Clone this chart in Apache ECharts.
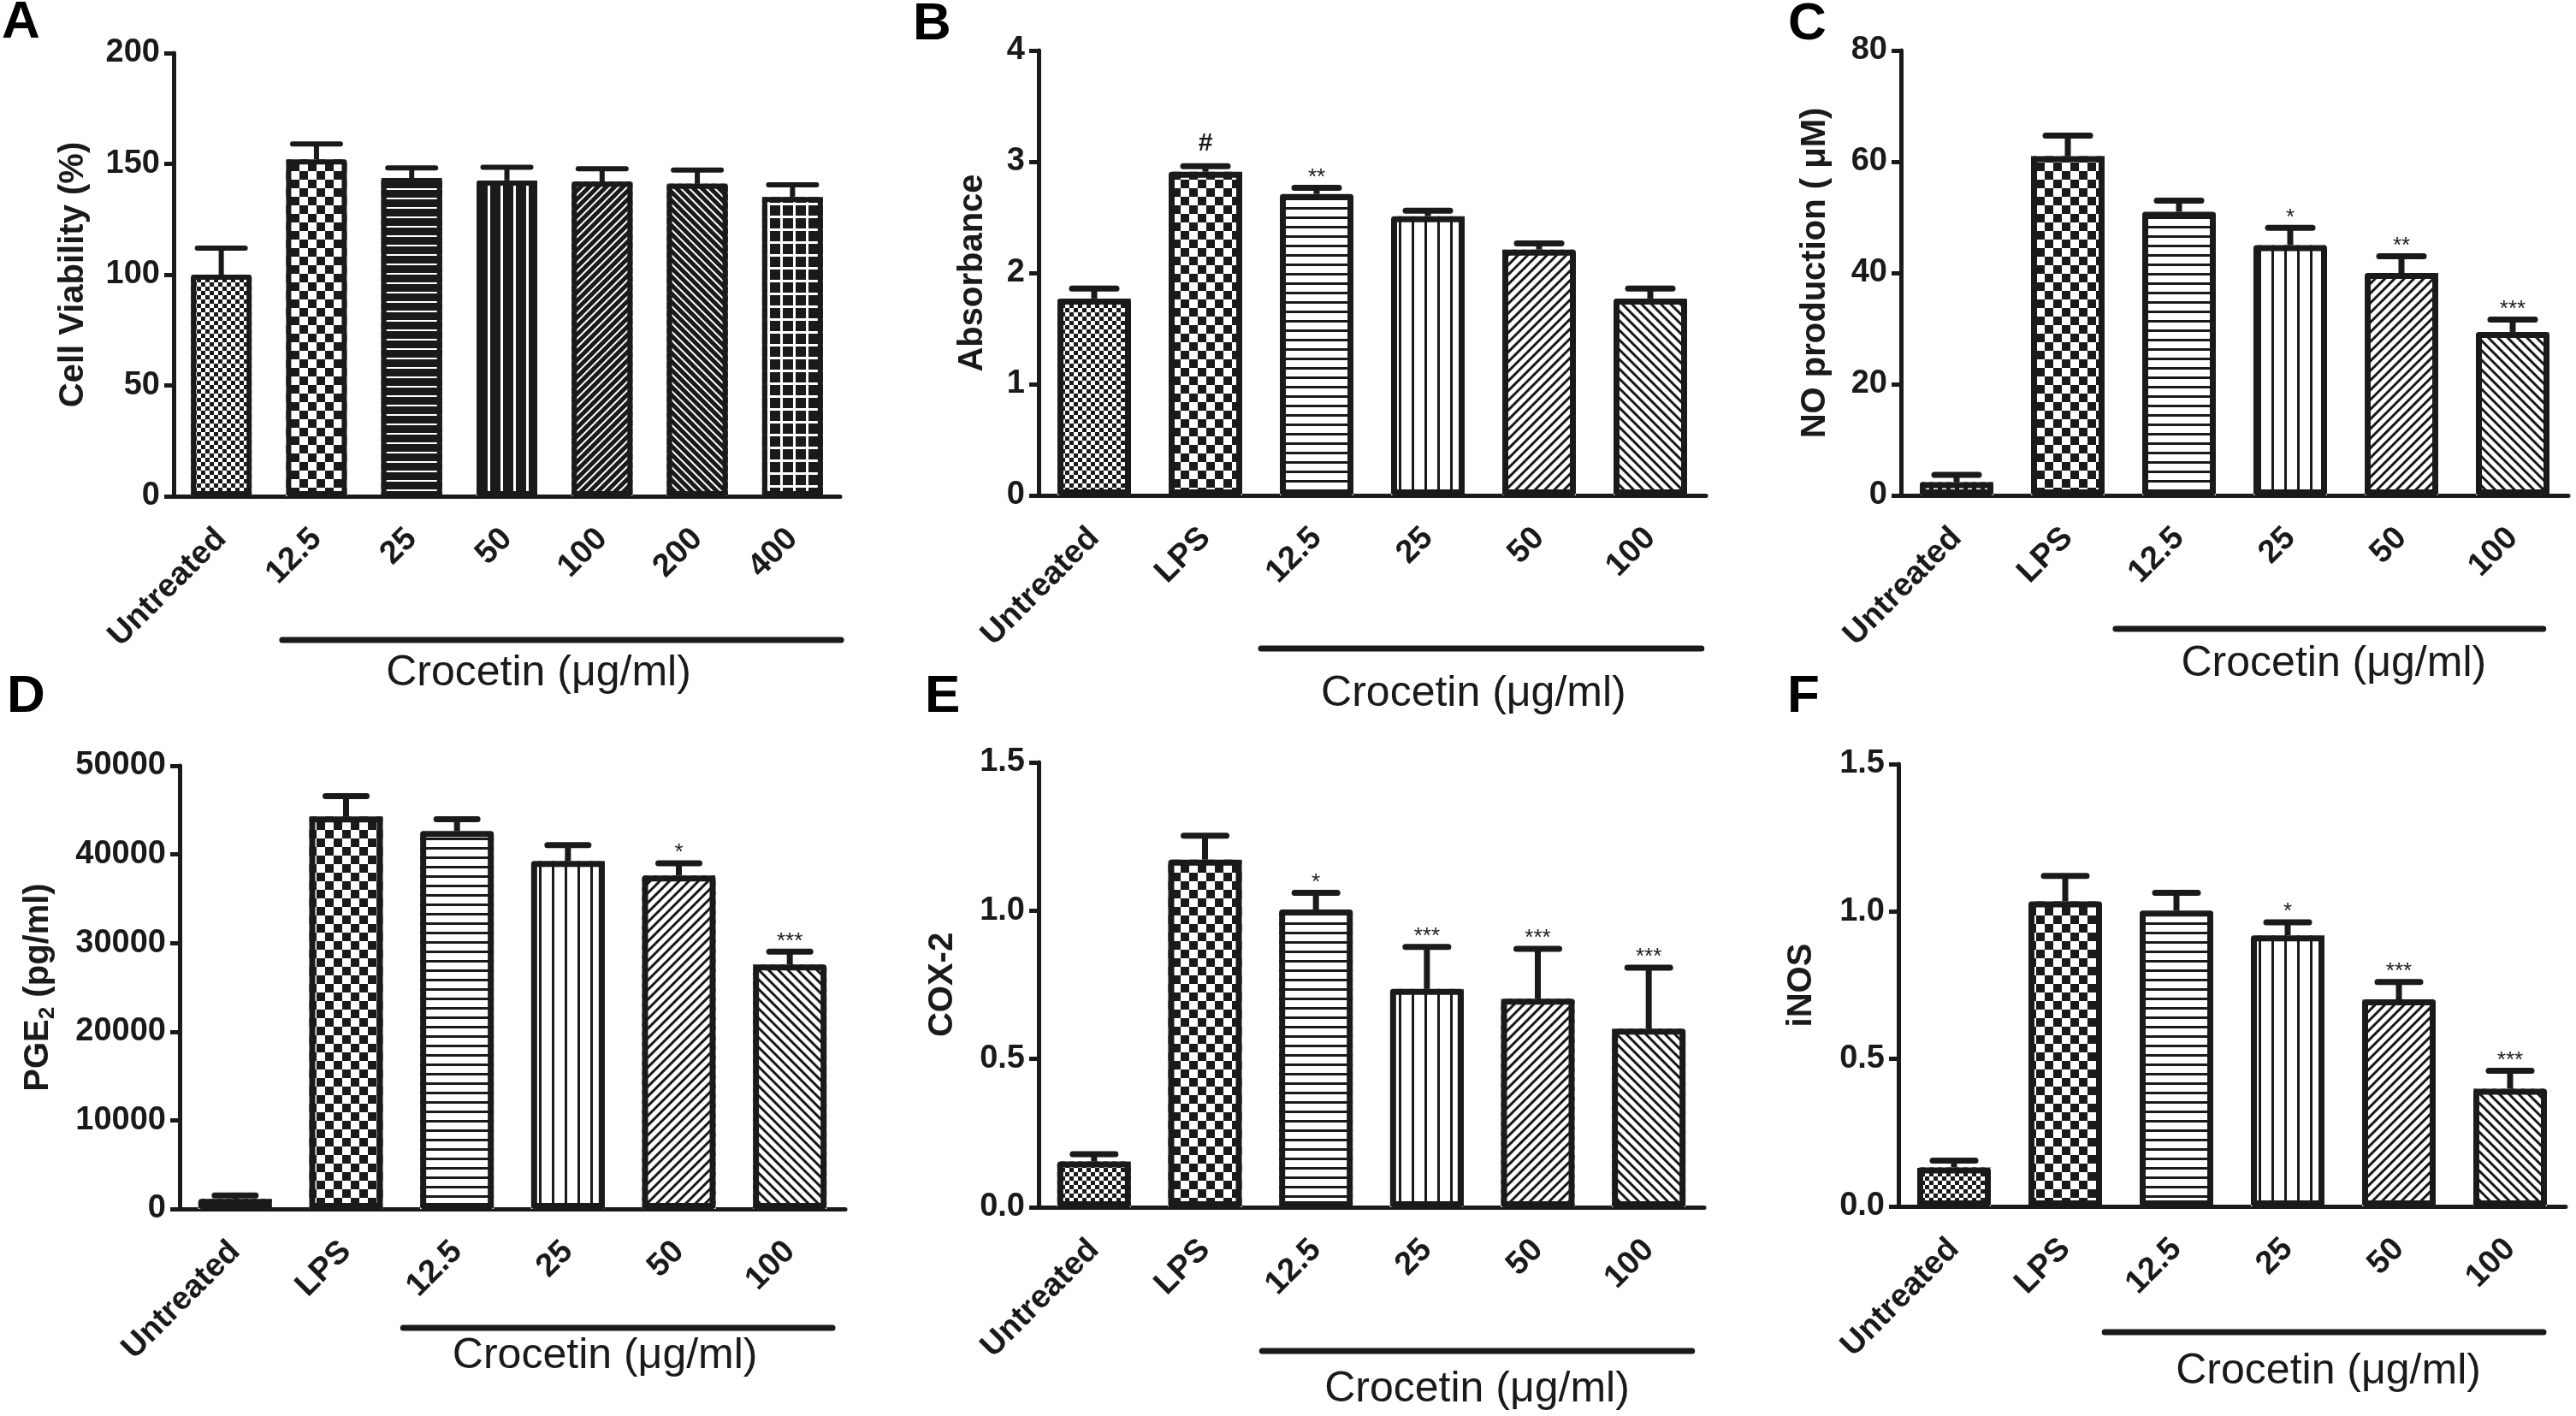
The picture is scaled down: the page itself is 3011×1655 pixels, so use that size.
<!DOCTYPE html>
<html>
<head>
<meta charset="utf-8">
<script src="https://cdn.jsdelivr.net/npm/echarts@6/dist/echarts.min.js"></script>
<style>
html, body { margin: 0; padding: 0; background: #fff; }
#main { width: 3011px; height: 1655px; }
</style>
</head>
<body>
<div id="main"></div>
<script>
var FONT = 'Liberation Sans, Arial, sans-serif';
var INK = '#1a1a1a';

// categories
var doseCategories = ['Untreated', '12.5', '25', '50', '100', '200', '400'];
var lpsCategories = ['Untreated', 'LPS', '12.5', '25', '50', '100'];

// A - cell viability (%)
var viabilityMean = [100, 152, 143.5, 142.5, 142, 141, 135];
var viabilityErr = [12, 7, 4.7, 6, 5.8, 6.2, 5.5];
var viabilitySig = ['', '', '', '', '', '', ''];

// B - absorbance
var absorbanceMean = [1.77, 2.91, 2.71, 2.51, 2.21, 1.77];
var absorbanceErr = [0.09, 0.05, 0.055, 0.05, 0.055, 0.09];
var absorbanceSig = ['', '#', '**', '', '', ''];

// C - NO production (uM)
var noMean = [2.4, 61, 51, 45, 40, 29.4];
var noErr = [1.3, 3.7, 2, 3.1, 3, 2.2];
var noSig = ['', '', '', '*', '**', '***'];

// D - PGE2 (pg/ml)
var pgeMean = [1130, 44270, 42630, 39250, 37610, 27580];
var pgeErr = [400, 2300, 1330, 1790, 1390, 1440];
var pgeSig = ['', '', '', '', '*', '***'];

// E - COX-2
var cox2Mean = [0.154, 1.172, 1.004, 0.736, 0.703, 0.602];
var cox2Err = [0.025, 0.081, 0.056, 0.142, 0.168, 0.206];
var cox2Sig = ['', '', '*', '***', '***', '***'];

// F - iNOS
var inosMean = [0.132, 1.034, 1.003, 0.919, 0.702, 0.399];
var inosErr = [0.023, 0.087, 0.06, 0.044, 0.059, 0.061];
var inosSig = ['', '', '', '*', '***', '***'];

// fill patterns (GraphPad style hatching)
function deco(bg, color, dx, dy, rot) {
	return { bg: bg, decal: { symbol: 'rect', symbolSize: 1, color: color, backgroundColor: bg,
		dashArrayX: dx, dashArrayY: dy, rotation: rot || 0 } };
}
var fineCheck = deco('#fff', INK, [[5, 5], [0, 5, 5, 0]], [5, 0]);
var coarseCheck = deco('#fff', INK, [[10, 10], [0, 10, 10, 0]], [10, 0]);
var hLines = deco('#fff', INK, [1, 0], [3, 8]);
var vLines = deco('#fff', INK, [3, 12], [1, 0]);
var diagUp = deco('#fff', INK, [3, 5], [1, 0], Math.PI / 4);
var diagDown = deco('#fff', INK, [3, 5], [1, 0], -Math.PI / 4);
var hLinesInv = deco(INK, '#fff', [1, 0], [2, 9]);
var vLinesInv = deco(INK, '#fff', [3, 12], [1, 0]);
var diagUpInv = deco(INK, '#fff', [2, 5], [1, 0], Math.PI / 4);
var diagDownInv = deco(INK, '#fff', [2, 5], [1, 0], -Math.PI / 4);
var gridInv = deco('#fff', INK, [12, 3], [12, 3]);

var patternsA = [fineCheck, coarseCheck, hLinesInv, vLinesInv, diagUpInv, diagDownInv, gridInv];
var patternsLps = [fineCheck, coarseCheck, hLines, vLines, diagUp, diagDown];

var panels = [
	{ letter: 'A', cats: doseCategories, mean: viabilityMean, err: viabilityErr, sig: viabilitySig,
	  yMax: 200, yStep: 50, digits: 0, yName: 'Cell Viability (%)', nameGap: 97,
	  left: 203, top: 62, width: 779, height: 518, barWidth: 71, border: 6, cap: 56,
	  patterns: patternsA, from: 1, pad: [0.72, 1.02], lineDy: 168, textDy: 39, textDx: -27, lx: 2, ly: 27 },
	{ letter: 'B', cats: lpsCategories, mean: absorbanceMean, err: absorbanceErr, sig: absorbanceSig,
	  yMax: 4, yStep: 1, digits: 0, yName: 'Absorbance', nameGap: 57,
	  left: 1214, top: 59, width: 780, height: 520, barWidth: 86, border: 7, cap: 52,
	  patterns: patternsLps, from: 2, pad: [1.0, 0.92], lineDy: 179, textDy: 53, textDx: -9, lx: 1067, ly: 29 },
	{ letter: 'C', cats: lpsCategories, mean: noMean, err: noErr, sig: noSig,
	  yMax: 80, yStep: 20, digits: 0, yName: 'NO production ( \u03bcM)', nameGap: 80,
	  left: 2222, top: 59, width: 780, height: 520, barWidth: 86, border: 7, cap: 52,
	  patterns: patternsLps, from: 2, pad: [1.14, 0.55], lineDy: 156, textDy: 41, textDx: 5, lx: 2090, ly: 29 },
	{ letter: 'D', cats: lpsCategories, mean: pgeMean, err: pgeErr, sig: pgeSig,
	  yMax: 50000, yStep: 10000, digits: 0, yName: '{b|PGE}{s|2}{b| (pg/ml)}', nameGap: 145,
	  left: 210, top: 895, width: 778, height: 518, barWidth: 86, border: 7, cap: 48,
	  patterns: patternsLps, from: 2, pad: [0.97, 0.77], lineDy: 139, textDy: 33, textDx: -15, lx: 8, ly: 815 },
	{ letter: 'E', cats: lpsCategories, mean: cox2Mean, err: cox2Err, sig: cox2Sig,
	  yMax: 1.5, yStep: 0.5, digits: 1, yName: 'COX-2', nameGap: 92,
	  left: 1214, top: 891, width: 778, height: 520, barWidth: 86, border: 7, cap: 50,
	  patterns: patternsLps, from: 2, pad: [0.97, 0.78], lineDy: 168, textDy: 45, textDx: 0, lx: 1081, ly: 815 },
	{ letter: 'F', cats: lpsCategories, mean: inosMean, err: inosErr, sig: inosSig,
	  yMax: 1.5, yStep: 0.5, digits: 1, yName: 'iNOS', nameGap: 93,
	  left: 2219, top: 893, width: 780, height: 517, barWidth: 86, border: 7, cap: 50,
	  patterns: patternsLps, from: 2, pad: [1.29, 0.6], lineDy: 147, textDy: 46, textDx: 5, lx: 2089, ly: 815 }
];

var chart = echarts.init(document.getElementById('main'));

var grids = [], xAxes = [], yAxes = [], series = [], letters = [];

panels.forEach(function (p, i) {
	grids.push({ left: p.left, top: p.top, width: p.width, height: p.height });

	xAxes.push({
		type: 'category', gridIndex: i, data: p.cats,
		axisLine: { lineStyle: { color: INK, width: 5 } },
		axisTick: { alignWithLabel: true, length: 16, lineStyle: { color: INK, width: 5 } },
		axisLabel: { rotate: 45, interval: 0, margin: 44, color: INK,
			fontFamily: FONT, fontSize: 38, fontWeight: 'bold' }
	});

	yAxes.push({
		type: 'value', gridIndex: i, min: 0, max: p.yMax, interval: p.yStep,
		axisLine: { show: true, lineStyle: { color: INK, width: 5 } },
		axisTick: { show: true, length: 11, lineStyle: { color: INK, width: 5 } },
		splitLine: { show: false },
		axisLabel: { margin: 16, color: INK, fontFamily: FONT, fontSize: 38, fontWeight: 'bold',
			formatter: (function (d) { return function (v) { return v.toFixed(d); }; })(p.digits) },
		name: p.yName, nameLocation: 'middle', nameRotate: 90, nameGap: p.nameGap,
		nameTextStyle: { color: INK, fontFamily: FONT, fontSize: 40, fontWeight: 'bold',
			rich: {
				b: { color: INK, fontFamily: FONT, fontSize: 40, fontWeight: 'bold' },
				s: { color: INK, fontFamily: FONT, fontSize: 26, verticalAlign: 'bottom', padding: [0, 0, -4, 0] }
			} }
	});

	// patterned fill
	series.push({
		type: 'bar', xAxisIndex: i, yAxisIndex: i, barWidth: p.barWidth, silent: true,
		data: p.mean.map(function (v, k) {
			return { value: v, itemStyle: { color: p.patterns[k].bg, decal: p.patterns[k].decal } };
		})
	});
	// outline on top of the fill
	series.push({
		type: 'bar', xAxisIndex: i, yAxisIndex: i, barWidth: p.barWidth, barGap: '-100%', silent: true,
		itemStyle: { color: 'rgba(0,0,0,0)', borderColor: INK, borderWidth: p.border, borderJoin: 'round' },
		data: p.mean
	});
	// upper error bars + significance marks
	series.push({
		type: 'custom', xAxisIndex: i, yAxisIndex: i, silent: true, z: 5,
		data: p.mean.map(function (v, k) { return [k, v, p.err[k]]; }),
		renderItem: function (params, api) {
			var k = params.dataIndex;
			var base = api.coord([api.value(0), api.value(1)]);
			var top = api.coord([api.value(0), api.value(1) + api.value(2)]);
			var kids = [
				{ type: 'line', shape: { x1: base[0], y1: base[1], x2: top[0], y2: top[1] },
				  style: { stroke: INK, lineWidth: p.border } },
				{ type: 'line', shape: { x1: top[0] - p.cap / 2, y1: top[1], x2: top[0] + p.cap / 2, y2: top[1] },
				  style: { stroke: INK, lineWidth: p.border, lineCap: 'round' } }
			];
			var s = p.sig[k];
			if (s) {
				var hash = s === '#';
				kids.push({ type: 'text', x: top[0], y: top[1] - (hash ? 26 : 12),
					style: { text: s, fill: INK, fontFamily: FONT, fontSize: hash ? 30 : 26,
						fontWeight: hash ? 'bold' : 'normal', align: 'center', verticalAlign: 'middle' } });
			}
			return { type: 'group', children: kids };
		}
	});

	letters.push({ type: 'text', x: p.lx, y: p.ly,
		style: { text: p.letter, fill: '#000', fontFamily: FONT, fontSize: 62, fontWeight: 'bold',
			align: 'left', verticalAlign: 'middle' } });
});

chart.setOption({
	animation: false,
	backgroundColor: '#fff',
	grid: grids,
	xAxis: xAxes,
	yAxis: yAxes,
	series: series,
	graphic: letters
});

// Crocetin bracket under the treated groups, placed from the axis scale
var extras = [];
panels.forEach(function (p, i) {
	var c0 = chart.convertToPixel({ xAxisIndex: i }, 0);
	var band = chart.convertToPixel({ xAxisIndex: i }, 1) - c0;
	var first = chart.convertToPixel({ xAxisIndex: i }, p.from);
	var last = chart.convertToPixel({ xAxisIndex: i }, p.cats.length - 1);
	var axisY = chart.convertToPixel({ yAxisIndex: i }, 0);
	var x1 = first - p.pad[0] * band / 2;
	var x2 = last + p.pad[1] * band / 2;
	var y = axisY + p.lineDy;
	extras.push({ type: 'line', shape: { x1: x1, y1: y, x2: x2, y2: y },
		style: { stroke: INK, lineWidth: 7, lineCap: 'round' } });
	extras.push({ type: 'text', x: (x1 + x2) / 2 + p.textDx, y: y + p.textDy,
		style: { text: 'Crocetin (\u03bcg/ml)', fill: INK, fontFamily: FONT, fontSize: 50,
			align: 'center', verticalAlign: 'middle' } });
});
chart.setOption({ graphic: letters.concat(extras) });
</script>
</body>
</html>
